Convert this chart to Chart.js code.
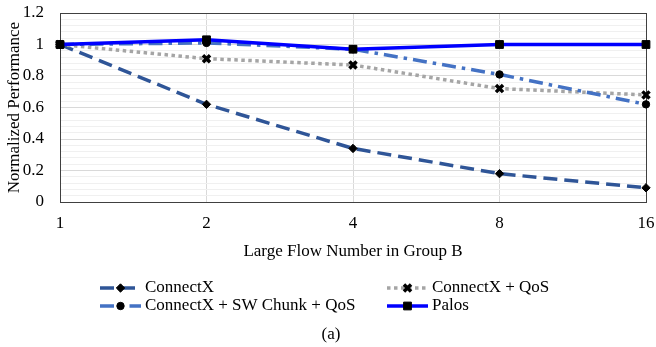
<!DOCTYPE html>
<html>
<head>
<meta charset="utf-8">
<script src="https://cdn.jsdelivr.net/npm/chart.js@4"></script>
<style>
  body { margin: 0; background: #fff; }
  #wrap { width: 656px; height: 347px; }
</style>
</head>
<body>
<div id="wrap"><canvas id="grafico" width="656" height="347"></canvas></div>
<script>
const flowNumbers = ['1', '2', '4', '8', '16']
const connectX = [1, 0.62, 0.34, 0.18, 0.09]
const connectXQos = [1, 0.91, 0.87, 0.72, 0.68]
const swChunkQos = [1, 1.01, 0.97, 0.81, 0.62]
const palos = [1, 1.03, 0.97, 1, 1]
const yTickLabels = ['0', '0.2', '0.4', '0.6', '0.8', '1', '1.2']

const fonte = "'Liberation Serif', 'Times New Roman', serif"

function serie(label, data, cor, dash, marcador, raio, ordem) {
  return {
    label: label,
    data: data,
    borderColor: cor,
    borderWidth: 3.5,
    borderDash: dash,
    pointStyle: marcador,
    pointRadius: raio,
    pointHoverRadius: raio,
    pointBackgroundColor: '#000',
    pointBorderColor: '#000',
    pointBorderWidth: marcador === 'crossRot' ? 3.5 : 1,
    fill: false,
    tension: 0,
    order: ordem
  }
}

const datasets = [
  serie('ConnectX', connectX, '#2F5597', [14, 7], 'rectRot', 4.2, 4),
  serie('ConnectX + QoS', connectXQos, '#A5A5A5', [3.5, 3.5], 'crossRot', 5, 3),
  serie('ConnectX + SW Chunk + QoS', swChunkQos, '#4472C4', [14, 6, 3.5, 6], 'circle', 3.7, 2),
  serie('Palos', palos, '#0000FF', [], 'rect', 5.5, 1)
]

// legenda em duas colunas, titulos e moldura
const extras = {
  id: 'extras',
  beforeDatasetsDraw(chart) {
    const ctx = chart.ctx
    const a = chart.chartArea
    ctx.save()
    ctx.strokeStyle = '#404040'
    ctx.lineWidth = 1
    ctx.strokeRect(a.left + 0.5, a.top + 0.5, a.right - a.left, a.bottom - a.top)
    ctx.restore()
  },
  afterDraw(chart) {
    const ctx = chart.ctx
    const a = chart.chartArea
    ctx.save()
    ctx.fillStyle = '#000'
    ctx.font = '17px ' + fonte
    ctx.textBaseline = 'middle'
    ctx.textAlign = 'center'
    ctx.fillText('Large Flow Number in Group B', (a.left + a.right) / 2, 252)
    ctx.fillText('(a)', 331, 335)

    ctx.save()
    ctx.translate(15, (a.top + a.bottom) / 2)
    ctx.rotate(-Math.PI / 2)
    ctx.fillText('Normalized Performance', 0, 0)
    ctx.restore()

    const posicoes = [[100, 288], [387, 288], [100, 306], [387, 306]]
    datasets.forEach(function (ds, i) {
      const x = posicoes[i][0]
      const y = posicoes[i][1]
      ctx.save()
      ctx.strokeStyle = ds.borderColor
      ctx.lineWidth = 3.5
      ctx.setLineDash(ds.borderDash)
      ctx.beginPath()
      ctx.moveTo(x, y)
      ctx.lineTo(x + 41, y)
      ctx.stroke()
      ctx.restore()
      ctx.save()
      ctx.setLineDash([])
      ctx.fillStyle = '#000'
      ctx.strokeStyle = '#000'
      ctx.lineWidth = ds.pointBorderWidth
      Chart.helpers.drawPoint(ctx, {
        pointStyle: ds.pointStyle,
        radius: ds.pointRadius,
        borderWidth: ds.pointBorderWidth,
        rotation: 0
      }, x + 20.5, y)
      ctx.restore()
      ctx.fillStyle = '#000'
      ctx.textAlign = 'left'
      ctx.fillText(ds.label, x + 45, y)
    })
    ctx.restore()
  }
}

const chart = new Chart(document.getElementById('grafico'), {
  type: 'line',
  data: { labels: flowNumbers, datasets: datasets },
  options: {
    responsive: false,
    animation: false,
    layout: { padding: { left: 0, top: 13, right: 10, bottom: 0 } },
    plugins: { legend: { display: false }, tooltip: { enabled: false } },
    elements: { point: { backgroundColor: '#000', borderColor: '#000' } },
    scales: {
      x: {
        offset: false,
        border: { display: true, color: '#404040' },
        grid: { color: '#D9D9D9', drawTicks: false, tickLength: 0 },
        ticks: { color: '#000', font: { family: fonte, size: 17 }, padding: 11, maxRotation: 0 },
        afterFit(scale) {
          scale.height = 145
          scale.paddingLeft = 0
          scale.paddingRight = 0
        }
      },
      y: {
        min: 0,
        max: 1.2,
        border: { display: true, color: '#404040' },
        grid: {
          drawTicks: false,
          tickLength: 0,
          color(c) {
            const v = Math.round(c.tick.value * 100)
            return v % 20 === 0 ? '#D9D9D9' : '#F0F0F0'
          }
        },
        ticks: {
          stepSize: 0.04,
          maxTicksLimit: 100,
          autoSkip: false,
          color: '#000',
          font: { family: fonte, size: 17 },
          padding: 16,
          callback(v) {
            const c = Math.round(v * 100)
            return c % 20 === 0 ? yTickLabels[c / 20] : ''
          }
        },
        afterFit(scale) {
          scale.width = 60
          scale.paddingTop = 0
          scale.paddingBottom = 0
        }
      }
    }
  },
  plugins: [extras]
})
</script>
</body>
</html>
